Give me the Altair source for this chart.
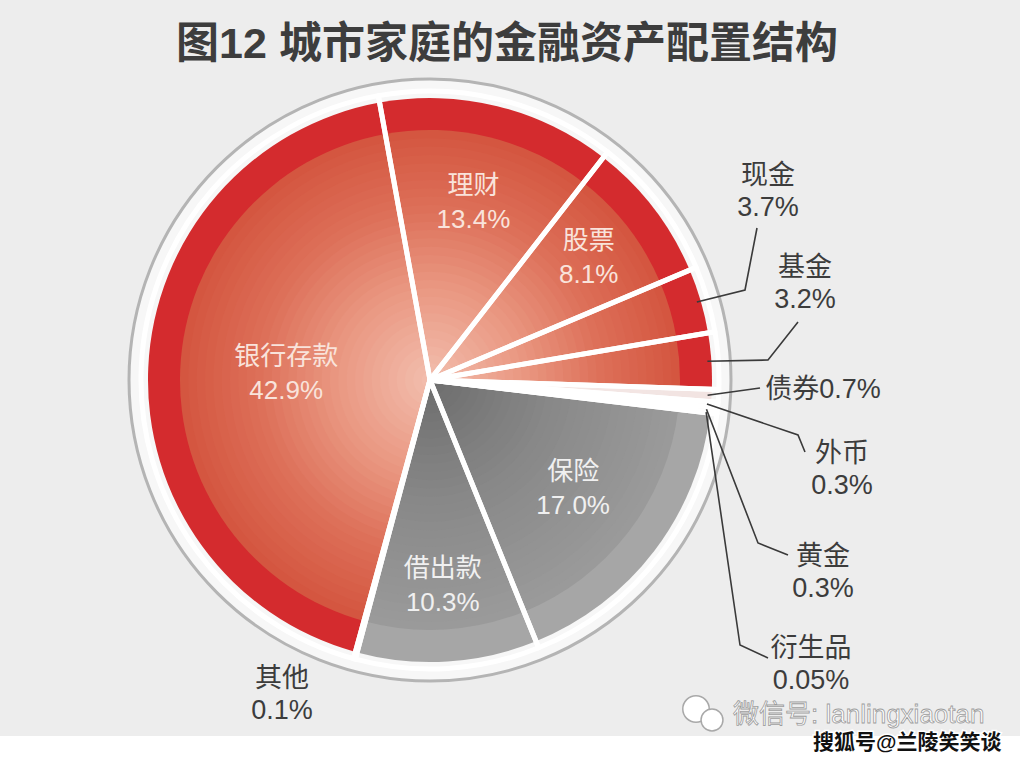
import altair as alt
import numpy as np
import pandas as pd

# ---------------- data ----------------
title_text = "图12 城市家庭的金融资产配置结构"
categories = ["理财", "股票", "现金", "基金", "债券", "外币", "黄金", "衍生品",
              "保险", "借出款", "其他", "银行存款"]
shares = [13.4, 8.1, 3.7, 3.2, 0.7, 0.3, 0.3, 0.05, 17.0, 10.3, 0.1, 42.9]
value_labels = ["13.4%", "8.1%", "3.7%", "3.2%", "0.7%", "0.3%", "0.3%", "0.05%",
                "17.0%", "10.3%", "0.1%", "42.9%"]
groups = ["red", "red", "red", "red", "minor", "minor", "minor", "minor",
          "gray", "gray", "red", "red"]
watermark1 = "微信号: lanlingxiaotan"
watermark2 = "搜狐号@兰陵笑笑谈"

# ---------------- layout / style ----------------
W, H = 1020, 764
CX, CY = 430, 380
R_PIE = 282
R_BAND = 250
R_RING = 301
START_DEG = -10.3
FONT = "Liberation Sans, Noto Sans CJK SC"

total = float(np.sum(shares))
cum = np.cumsum(shares)
p0 = cum - np.array(shares)
p1 = cum

def polar(pct, r):
    a = np.deg2rad(START_DEG + pct / total * 360.0)
    return CX + r * np.sin(a), CY - r * np.cos(a)

xs = alt.Scale(domain=[0, W])
ys = alt.Scale(domain=[0, H], reverse=True)
theta_scale = alt.Scale(domain=[0, total],
                        range=[np.deg2rad(START_DEG), np.deg2rad(START_DEG) + 2 * np.pi])

def hexc(rgb):
    return "#%02x%02x%02x" % tuple(int(round(v)) for v in rgb)

def interp(stops, t):
    ts = [s[0] for s in stops]
    cols = np.array([s[1] for s in stops], dtype=float)
    return hexc([np.interp(t, ts, cols[:, i]) for i in range(3)])

inner_stops = {
    "red": [(0.0, (243, 192, 176)), (0.4, (233, 150, 128)), (0.7, (221, 112, 89)), (1.0, (212, 86, 64))],
    "gray": [(0.0, (108, 108, 108)), (0.5, (136, 136, 136)), (1.0, (154, 154, 154))],
    "minor": [(0.0, (246, 236, 234)), (1.0, (242, 228, 226))],
}
band_color = {"red": "#d42b2e", "gray": "#a6a6a6", "minor": "#f2e4e2"}

# annuli (drawn as nested sectors, largest first)
rows = []
N = 30
for i, c in enumerate(categories):
    g = groups[i]
    rows.append(dict(cat=c, p0=p0[i], p1=p1[i], r=R_PIE, col=band_color[g]))
    for k in range(N):
        rr = R_BAND * (1 - k / N)
        rows.append(dict(cat=c, p0=p0[i], p1=p1[i], r=rr, col=interp(inner_stops[g], rr / R_BAND)))
pie_df = pd.DataFrame(rows)
slice_df = pd.DataFrame(dict(cat=categories, p0=p0, p1=p1))

# inner labels
inner_r = {"理财": 182, "股票": 200, "保险": 180, "借出款": 206, "银行存款": 144}
inner_rows = []
for i, c in enumerate(categories):
    if c in inner_r:
        x, y = polar((p0[i] + p1[i]) / 2, inner_r[c])
        col = "#f0f0f0" if groups[i] == "gray" else "#f9e3db"
        inner_rows.append(dict(t=c, x=x, y=y - 17, col=col))
        inner_rows.append(dict(t=value_labels[i], x=x, y=y + 17, col=col))
inner_df = pd.DataFrame(inner_rows)

# outer labels (block centres) and leader elbows
outer_pos = {"现金": (768, 192), "基金": (805, 284), "外币": (842, 470),
             "黄金": (823, 573), "衍生品": (811, 665), "其他": (282, 695)}
single_line = {"债券": (823, 390)}
leaders = {"现金": [(745, 290), (757, 228)], "基金": [(768, 360), (798, 322)],
           "债券": [(760, 388)], "外币": [(798, 435), (805, 452)],
           "黄金": [(758, 543), (788, 555)], "衍生品": [(740, 645), (768, 658)]}
outer_rows = []
for i, c in enumerate(categories):
    if c in outer_pos:
        x, y = outer_pos[c]
        outer_rows.append(dict(t=c, x=x, y=y - 16))
        outer_rows.append(dict(t=value_labels[i], x=x, y=y + 16))
    if c in single_line:
        x, y = single_line[c]
        outer_rows.append(dict(t=c + value_labels[i], x=x, y=y))
outer_df = pd.DataFrame(outer_rows)

line_rows = []
for i, c in enumerate(categories):
    if c in leaders:
        sx, sy = polar((p0[i] + p1[i]) / 2, R_PIE - 4)
        pts = [(sx, sy)] + leaders[c]
        for s, (x, y) in enumerate(pts):
            line_rows.append(dict(name=c, seq=s, x=x, y=y))
line_df = pd.DataFrame(line_rows)

one = pd.DataFrame({"a": [0]})

# ---------------- layers ----------------
strip = alt.Chart(one).mark_rect(color="#ffffff").encode(
    x=alt.value(0), x2=alt.value(W), y=alt.value(736), y2=alt.value(H))

ring = alt.Chart(one).mark_arc(fill="#f7f7f7", stroke="#b4b4b4", strokeWidth=3,
                               radius=R_RING).encode(
    theta=alt.value(0), theta2=alt.value(2 * np.pi), x=alt.value(CX), y=alt.value(CY))

pie = alt.Chart(pie_df).mark_arc().encode(
    theta=alt.Theta("p0:Q", scale=theta_scale, stack=None),
    theta2="p1:Q",
    radius=alt.Radius("r:Q", scale=None),
    color=alt.Color("col:N", scale=None),
    order=alt.Order("r:Q", sort="descending"),
    x=alt.value(CX), y=alt.value(CY))

gaps = alt.Chart(slice_df).mark_arc(filled=False, fillOpacity=0, stroke="#ffffff",
                                    strokeWidth=5, radius=R_PIE + 7,
                                    strokeJoin="round").encode(
    theta=alt.Theta("p0:Q", scale=theta_scale, stack=None),
    theta2="p1:Q",
    x=alt.value(CX), y=alt.value(CY))

lines = alt.Chart(line_df).mark_line(color="#3a3a3a", strokeWidth=1.6).encode(
    x=alt.X("x:Q", scale=xs, axis=None),
    y=alt.Y("y:Q", scale=ys, axis=None),
    detail="name:N", order="seq:Q")

inner_text = alt.Chart(inner_df).mark_text(font=FONT, fontSize=26, align="center",
                                           baseline="middle").encode(
    x=alt.X("x:Q", scale=xs, axis=None),
    y=alt.Y("y:Q", scale=ys, axis=None),
    text="t:N", color=alt.Color("col:N", scale=None))

outer_text = alt.Chart(outer_df).mark_text(font=FONT, fontSize=27, align="center",
                                           baseline="middle", color="#3c3c3c").encode(
    x=alt.X("x:Q", scale=xs, axis=None),
    y=alt.Y("y:Q", scale=ys, axis=None),
    text="t:N")

title = alt.Chart(pd.DataFrame({"t": [title_text]})).mark_text(
    font=FONT, fontSize=43, fontWeight="bold", color="#3d3d3d",
    align="center", baseline="middle").encode(
    x=alt.value(507), y=alt.value(45), text="t:N")

icon_df = pd.DataFrame({"x": [696, 712], "y": [709, 720], "s": [700, 480]})
icon = alt.Chart(icon_df).mark_point(shape="circle", filled=True, fill="#ffffff",
                                     stroke="#a8a8a8", strokeWidth=1.5, opacity=1).encode(
    x=alt.X("x:Q", scale=xs, axis=None),
    y=alt.Y("y:Q", scale=ys, axis=None),
    size=alt.Size("s:Q", scale=None, legend=None))

wm1 = alt.Chart(pd.DataFrame({"t": [watermark1]})).mark_text(
    font=FONT, fontSize=26, fill="#ffffff", stroke="#9c9c9c", strokeWidth=0.8,
    align="left", baseline="middle").encode(
    x=alt.value(733), y=alt.value(715), text="t:N")

wm2_bg = alt.Chart(pd.DataFrame({"t": [watermark2]})).mark_text(
    font=FONT, fontSize=21, fontWeight="bold", color="#ffffff", stroke="#ffffff",
    strokeWidth=3, align="left", baseline="middle").encode(
    x=alt.value(813), y=alt.value(743), text="t:N")
wm2 = alt.Chart(pd.DataFrame({"t": [watermark2]})).mark_text(
    font=FONT, fontSize=21, fontWeight="bold", color="#111111",
    align="left", baseline="middle").encode(
    x=alt.value(813), y=alt.value(743), text="t:N")

chart = alt.layer(strip, ring, pie, gaps, lines, inner_text, outer_text, title,
                  icon, wm1, wm2_bg, wm2).properties(
    width=W, height=H, background="#ededed", padding=0, autosize="none"
).configure_view(stroke=None)

chart.save("out.html", embed_options={"renderer": "svg", "actions": False})
